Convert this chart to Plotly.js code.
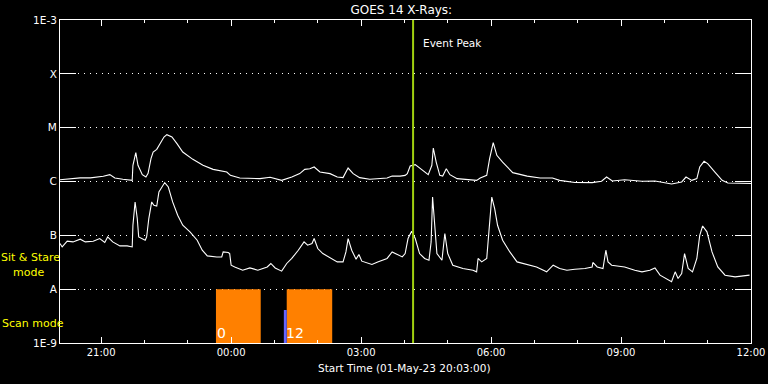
<!DOCTYPE html>
<html>
<head>
<meta charset="utf-8">
<script src="https://cdn.plot.ly/plotly-3.0.1.min.js"></script>
<style>
html,body{margin:0;padding:0;background:#000;}
#chart{width:768px;height:384px;}
</style>
</head>
<body>
<div id="chart"></div>
<script>
// ---- data (times in minutes after start 01-May-23 20:03:00) ----
const startTime = "2023-05-01 20:03:00";
const endTime = "2023-05-02 12:00:00";

// GOES long channel (upper curve), W/m^2
const longT = [0,28,42,60,69,76,87,100,101,105,108,114,119,122,126,129,134,139,144,148,155,162,170,184,198,212,231,236,249,277,291,307,321,332,339,346,352,360,374,384,392,399,406,415,429,453,460,471,478,481,485,492,499,510,515,517,521,526,530,535,540,550,577,582,591,595,600,605,613,627,647,665,682,692,713,737,750,757,765,782,806,824,847,861,867,875,882,886,892,897,907,917,925,957];
const longF = [1.08e-6,1.17e-6,1.17e-6,1.25e-6,1.34e-6,1.16e-6,1.10e-6,1.05e-6,2.0e-6,3.44e-6,2.0e-6,1.34e-6,1.21e-6,1.42e-6,2.66e-6,3.53e-6,3.96e-6,5.05e-6,6.70e-6,7.41e-6,6.70e-6,5.05e-6,3.53e-6,2.58e-6,2.0e-6,1.68e-6,1.50e-6,1.30e-6,1.16e-6,1.13e-6,1.20e-6,1.05e-6,1.21e-6,1.40e-6,1.68e-6,1.73e-6,1.86e-6,1.50e-6,1.40e-6,1.21e-6,1.18e-6,1.78e-6,1.40e-6,1.18e-6,1.10e-6,1.16e-6,1.26e-6,1.26e-6,1.30e-6,1.40e-6,1.94e-6,2.06e-6,1.73e-6,1.34e-6,2.0e-6,4.19e-6,2.30e-6,1.30e-6,1.26e-6,1.73e-6,1.34e-6,1.13e-6,1.05e-6,1.16e-6,1.30e-6,2.66e-6,5.27e-6,3.06e-6,2.30e-6,1.46e-6,1.26e-6,1.16e-6,1.16e-6,1.05e-6,0.96e-6,0.955e-6,1.01e-6,1.21e-6,1.02e-6,1.08e-6,1.01e-6,1.02e-6,0.90e-6,0.98e-6,1.21e-6,1.05e-6,1.13e-6,1.86e-6,2.37e-6,2.15e-6,1.50e-6,1.05e-6,0.94e-6,0.92e-6];

// GOES short channel (lower curve), W/m^2
const shortT = [0,3,10,18,28,35,46,55,62,66,73,83,93,100,101,104,107,109,118,120,123,127,130,134,137,141,145,150,156,163,170,180,190,197,204,217,224,226,233,235,237,242,253,263,274,287,292,298,307,314,321,330,338,343,349,352,357,364,374,384,392,396,399,404,410,414,418,432,440,453,460,468,474,478,482,487,492,498,505,511,514,516,519,522,529,533,537,544,558,572,577,579,584,591,594,598,602,606,613,623,633,647,660,674,683,692,702,713,727,737,738,744,752,756,759,764,782,796,806,817,824,831,840,847,852,856,861,865,870,876,882,886,890,896,903,911,921,935,955];
const shortF = [7.05e-8,6.09e-8,7.78e-8,7.55e-8,8.47e-8,7.55e-8,7.78e-8,8.72e-8,7.35e-8,9.33e-8,7.55e-8,6.36e-8,6.36e-8,6.09e-8,1.54e-7,4.17e-7,2.05e-7,9.33e-8,8.11e-8,9.33e-8,2.05e-7,4.17e-7,3.62e-7,3.51e-7,6.38e-7,7.91e-7,9.55e-7,7.91e-7,4.17e-7,2.36e-7,1.54e-7,1.16e-7,8.11e-8,5.29e-8,4.15e-8,3.97e-8,3.97e-8,4.92e-8,4.80e-8,4.59e-8,2.79e-8,2.59e-8,2.25e-8,2.48e-8,2.25e-8,2.59e-8,3.00e-8,2.48e-8,2.16e-8,3.00e-8,3.72e-8,5.29e-8,7.55e-8,6.55e-8,7.05e-8,8.72e-8,5.69e-8,4.59e-8,3.81e-8,3.21e-8,3.21e-8,4.92e-8,8.72e-8,5.29e-8,3.61e-8,4.40e-8,3.31e-8,2.87e-8,3.21e-8,3.72e-8,4.92e-8,4.27e-8,3.97e-8,4.59e-8,8.72e-8,1.19e-7,8.72e-8,4.59e-8,3.72e-8,3.45e-8,7.55e-8,5.15e-7,1.54e-7,4.59e-8,3.45e-8,1.08e-7,4.59e-8,2.79e-8,2.42e-8,2.25e-8,2.10e-8,3.72e-8,3.21e-8,3.72e-8,1.16e-7,5.15e-7,3.14e-7,1.54e-7,8.11e-8,4.92e-8,3.21e-8,2.87e-8,2.59e-8,2.10e-8,2.79e-8,2.42e-8,2.25e-8,2.35e-8,2.42e-8,2.59e-8,3.13e-8,2.59e-8,2.42e-8,5.29e-8,3.21e-8,2.79e-8,2.59e-8,2.25e-8,2.10e-8,2.25e-8,2.48e-8,1.82e-8,1.58e-8,1.37e-8,2.10e-8,1.58e-8,1.95e-8,4.59e-8,2.42e-8,2.10e-8,3.72e-8,1.00e-7,1.49e-7,1.16e-7,4.92e-8,2.59e-8,1.82e-8,1.69e-8,1.82e-8];

// y axis levels and labels
const levelVals = [1e-9,1e-8,1e-7,1e-6,1e-5,1e-4,1e-3];
const levelText = ["1E-9","A","B","C","M","X","1E-3"];

// x axis ticks
const timeTicks = ["2023-05-01 21:00","2023-05-02 00:00","2023-05-02 03:00","2023-05-02 06:00","2023-05-02 09:00","2023-05-02 12:00"];
const timeTickText = ["21:00","00:00","03:00","06:00","09:00","12:00"];

// event peak
const eventPeak = "2023-05-02 04:12";

// scan mode blocks
const scanStart = ["2023-05-01 23:39","2023-05-02 01:17"];
const scanEnd = ["2023-05-02 00:41","2023-05-02 02:20"];
const scanLabels = ["0","12"];
const scanTop = 1e-8;
const sitStart = ["2023-05-02 01:13"];
const sitEnd = ["2023-05-02 01:17"];
const sitTop = 4.1e-9;
const floorVal = 1e-9;

// ---- build ----
const START = Date.UTC(2023,4,1,20,3,0);
function ts(m){ return new Date(START + m*60000).toISOString().replace('T',' ').slice(0,19); }

const traces = [];
function rect(x0,x1,top,color){
  traces.push({type:'scatter',mode:'lines',x:[x0,x0,x1,x1,x0],y:[floorVal,top,top,floorVal,floorVal],
    fill:'toself',fillcolor:color,line:{width:0,color:color},hoverinfo:'skip',showlegend:false});
}
for(let i=0;i<scanStart.length;i++) rect(scanStart[i],scanEnd[i],scanTop,'#ff8000');
for(let i=0;i<sitStart.length;i++) rect(sitStart[i],sitEnd[i],sitTop,'#6464ff');

traces.push({type:'scatter',mode:'lines',x:longT.map(ts),y:longF,line:{color:'#ffffff',width:1.1},hoverinfo:'skip',showlegend:false});
traces.push({type:'scatter',mode:'lines',x:shortT.map(ts),y:shortF,line:{color:'#ffffff',width:1.1},hoverinfo:'skip',showlegend:false});

const font = "DejaVu Sans, sans-serif";
const annotations = [
  {text:"Start Time (01-May-23 20:03:00)",xref:'paper',yref:'paper',x:0.499,y:-0.077,xanchor:'center',yanchor:'middle',showarrow:false,font:{family:font,size:10.5,color:'#ffffff'}},
  {text:"Event Peak",xref:'x',yref:'paper',x:eventPeak,y:0.929,xanchor:'left',yanchor:'middle',xshift:8,showarrow:false,font:{family:font,size:10.5,color:'#ffffff'}},
  {text:"Sit & Stare",xref:'paper',yref:'paper',x:-0.0868,y:0.2415,xanchor:'left',yanchor:'bottom',borderpad:0,showarrow:false,font:{family:font,size:11,color:'#ffff00'}},
  {text:"mode",xref:'paper',yref:'paper',x:-0.07,y:0.2415,xanchor:'left',yanchor:'top',borderpad:0,showarrow:false,font:{family:font,size:11,color:'#ffff00'}},
  {text:"Scan mode",xref:'paper',yref:'paper',x:-0.0868,y:0.059,xanchor:'left',yanchor:'middle',showarrow:false,font:{family:font,size:11,color:'#ffff00'}}
];
for(let i=0;i<scanStart.length;i++){
  annotations.push({text:scanLabels[i],xref:'x',yref:'paper',x:scanStart[i],y:0.031,xanchor:'left',yanchor:'middle',xshift:(i===1?-3:-1),showarrow:false,font:{family:font,size:14,color:'#ffffff'}});
}

const layout = {
  width:768,height:384,
  paper_bgcolor:'#000000',plot_bgcolor:'#000000',
  margin:{l:60,r:17,t:20,b:41,pad:0},
  showlegend:false,
  title:{text:"GOES 14 X-Rays:",xref:'paper',x:0.494,xanchor:'center',yref:'container',y:0.975,yanchor:'middle',font:{family:font,size:12,color:'#ffffff'}},
  xaxis:{type:'date',range:[startTime,endTime],tickvals:timeTicks,ticktext:timeTickText,
    ticks:'inside',ticklen:6,tickcolor:'#ffffff',tickwidth:1,showline:true,linecolor:'#ffffff',linewidth:1,mirror:'allticks',
    showgrid:false,zeroline:false,tickfont:{family:font,size:10,color:'#ffffff'},
    minor:{dtick:3600000,tick0:"2023-05-01 00:00",ticks:'inside',ticklen:3,tickcolor:'#ffffff',showgrid:false}},
  yaxis:{type:'log',range:[-9,-3],tickvals:levelVals,ticktext:levelText,
    ticks:'inside',ticklen:16,tickcolor:'#ffffff',tickwidth:1,showline:true,linecolor:'#ffffff',linewidth:1,mirror:'allticks',
    showgrid:true,gridcolor:'#ffffff',gridwidth:1,griddash:'1px,5px',zeroline:false,
    tickfont:{family:font,size:10.5,color:'#ffffff'}},
  shapes:[{type:'line',xref:'x',yref:'paper',x0:eventPeak,x1:eventPeak,y0:0,y1:1,line:{color:'#a0d010',width:2},layer:'above'}],
  annotations:annotations
};

Plotly.newPlot('chart',traces,layout,{staticPlot:true,displayModeBar:false});
</script>
</body>
</html>
